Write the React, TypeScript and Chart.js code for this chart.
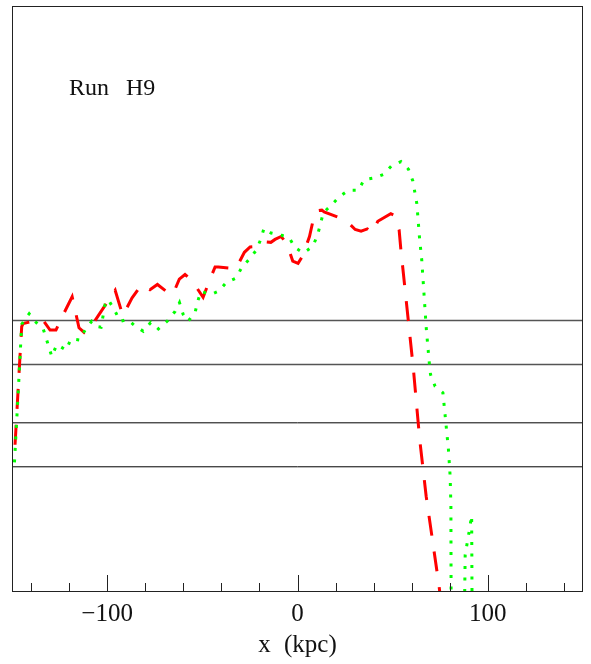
import React, { useEffect, useRef } from "react";
import { Chart, registerables } from "chart.js";

Chart.register(...registerables);

// Red dashed profile (x in kpc, y in plot units 0..10)
const redX = [-148.4, -146.1, -144.9, -144.2, -140.5, -133.7, -130.0, -126.9, -123.3, -118.4, -114.8, -112.1, -108.5, -95.8, -91.8, -86.9, -81.8, -77.5, -73.6, -66.9, -65.5, -62.1, -59.1, -55.5, -49.6, -46.3, -43.3, -41.6, -32.4, -27.9, -24.9, -20.5, -17.0, -14.0, -11.8, -8.6, -5.6, -2.5, 0.3, 2.9, 6.3, 9.2, 10.5, 12.8, 14.0, 22.0, 25.9, 30.3, 33.4, 36.7, 39.0, 42.2, 49.0, 50.9, 53.4, 54.3, 60.9, 64.2, 67.6, 74.4, 75.2];
const redY = [2.50, 3.84, 4.52, 4.57, 4.60, 4.63, 4.46, 4.46, 4.71, 5.03, 4.50, 4.42, 4.52, 5.14, 4.71, 5.01, 5.24, 5.15, 5.24, 5.07, 5.07, 5.33, 5.41, 5.31, 5.02, 5.30, 5.54, 5.54, 5.51, 5.79, 5.88, 5.89, 5.97, 5.96, 6.01, 6.06, 5.94, 5.64, 5.60, 5.74, 6.06, 6.48, 6.50, 6.51, 6.48, 6.38, 6.32, 6.18, 6.15, 6.19, 6.12, 6.32, 6.45, 6.42, 6.17, 5.84, 3.79, 2.59, 1.62, 0.08, -0.15];

// Green dotted profile
const greenX = [-148.7, -146.8, -144.9, -141.0, -137.9, -133.5, -129.1, -126.5, -124.2, -121.6, -119.0, -114.6, -111.6, -108.1, -105.1, -103.2, -101.1, -99.4, -95.8, -93.2, -89.2, -85.7, -81.0, -77.1, -73.1, -68.5, -64.3, -62.0, -60.1, -57.5, -53.8, -52.6, -50.8, -45.4, -41.2, -37.5, -32.3, -29.3, -25.4, -21.8, -19.3, -17.6, -13.9, -8.3, -4.4, -1.3, 3.1, 8.0, 10.5, 13.6, 18.0, 22.0, 26.7, 32.0, 35.0, 40.3, 45.1, 49.2, 54.4, 58.3, 60.6, 62.7, 64.1, 65.3, 66.5, 67.7, 69.3, 69.9, 72.3, 76.4, 77.6, 79.3, 80.2, 80.6, 80.7, 87.8, 88.1, 90.2, 91.5, 91.7];
const greenY = [2.20, 3.36, 4.56, 4.74, 4.61, 4.47, 4.01, 4.21, 4.17, 4.12, 4.31, 4.29, 4.46, 4.61, 4.52, 4.51, 4.90, 4.98, 4.78, 4.61, 4.64, 4.54, 4.44, 4.59, 4.48, 4.61, 4.78, 4.93, 4.73, 4.61, 4.76, 4.93, 5.12, 5.07, 5.13, 5.27, 5.35, 5.53, 5.67, 5.82, 6.01, 6.20, 6.12, 6.08, 6.04, 5.87, 5.78, 5.89, 6.08, 6.47, 6.60, 6.74, 6.85, 6.85, 7.03, 7.06, 7.12, 7.26, 7.34, 7.21, 7.01, 6.62, 6.04, 5.65, 5.06, 4.47, 3.88, 3.70, 3.50, 3.39, 2.99, 2.42, 1.96, 1.45, -0.15, -0.15, 0.62, 1.02, 1.29, -0.15];

// Horizontal reference levels
const levelValues = [4.624, 3.872, 2.875, 2.123];
const levelColors = ["#555", "#555", "#000", "#000"];

// Axis ticks
const labelTicks = [-100, 0, 100];
const minorTicks = [-140, -120, -100, -80, -60, -40, -20, 0, 20, 40, 60, 80, 100, 120, 140];

const X_MIN = -150;
const X_MAX = 150;
const Y_MIN = 0;
const Y_MAX = 10;

const SERIF = '"Liberation Serif", "Times New Roman", serif';

const framePlugin = {
  id: "frame",
  beforeDraw(chart: any) {
    (chart.ctx as any).wordSpacing = "7px";
  },
  afterDatasetsDraw(chart: any) {
    const { ctx, chartArea: a, scales } = chart;
    const x = scales.x;
    ctx.save();
    ctx.strokeStyle = "#222";
    ctx.lineWidth = 1;
    ctx.strokeRect(a.left + 0.5, a.top + 0.5, a.right - a.left - 1, a.bottom - a.top);
    ctx.beginPath();
    for (const v of minorTicks) {
      const px = Math.round(x.getPixelForValue(v)) + 0.5;
      const len = labelTicks.includes(v) ? 16 : 8;
      ctx.moveTo(px, a.bottom);
      ctx.lineTo(px, a.bottom - len);
    }
    ctx.stroke();
    ctx.fillStyle = "#111";
    ctx.font = `24px ${SERIF}`;
    (ctx as any).wordSpacing = "11px";
    ctx.textBaseline = "alphabetic";
    ctx.textAlign = "left";
    ctx.fillText("Run H9", 69, 95);
    ctx.restore();
  },
  afterDraw(chart: any) {
    (chart.ctx as any).wordSpacing = "0px";
  },
};

export default function App() {
  const ref = useRef<HTMLCanvasElement | null>(null);

  useEffect(() => {
    if (!ref.current) return;
    const red = redX.map((x, i) => ({ x, y: redY[i] }));
    const green = greenX.map((x, i) => ({ x, y: greenY[i] }));
    const levels = levelValues.map((y, i) => ({
      data: [
        { x: X_MIN, y },
        { x: X_MAX, y },
      ],
      borderColor: levelColors[i],
      borderWidth: i < 2 ? 1.4 : 1,
      pointRadius: 0,
      clip: 0,
    }));
    const chart = new Chart(ref.current, {
      type: "line",
      data: {
        datasets: [
          {
            data: green,
            borderColor: "#00ff00",
            borderWidth: 3,
            borderDash: [3, 8.5],
            borderCapStyle: "butt",
            pointRadius: 0,
            tension: 0,
            clip: 0,
          },
          {
            data: red,
            borderColor: "#ff0000",
            borderWidth: 3,
            borderDash: [20, 16],
            borderCapStyle: "butt",
            pointRadius: 0,
            tension: 0,
            clip: 0,
          },
          ...levels,
        ] as any,
      },
      options: {
        animation: false,
        responsive: false,
        devicePixelRatio: 1,
        layout: { padding: { left: 12, right: 8, top: 6, bottom: 0 } },
        plugins: { legend: { display: false }, tooltip: { enabled: false } },
        elements: { point: { radius: 0 }, line: { tension: 0 } },
        scales: {
          x: {
            type: "linear",
            position: "bottom",
            min: X_MIN,
            max: X_MAX,
            grid: { display: false, drawTicks: false },
            border: { display: false },
            afterBuildTicks: (axis: any) => {
              axis.ticks = labelTicks.map((v) => ({ value: v }));
            },
            afterFit: (axis: any) => {
              axis.height = 73;
            },
            ticks: {
              autoSkip: false,
              maxRotation: 0,
              padding: 8,
              color: "#111",
              font: { family: SERIF, size: 25, lineHeight: 1.2 },
              callback: (v: any) => (v < 0 ? "\u2212" + Math.abs(v) : String(v)),
            },
            title: {
              display: true,
              text: "x (kpc)",
              color: "#111",
              font: { family: SERIF, size: 25, lineHeight: 1.2 },
              padding: { top: 0, bottom: 4 },
            },
          } as any,
          y: { type: "linear", display: false, min: Y_MIN, max: Y_MAX },
        },
      },
      plugins: [framePlugin],
    });
    return () => chart.destroy();
  }, []);

  return (
    <div style={{ position: "fixed", left: 0, top: 0, width: 591, height: 664, background: "#fff" }}>
      <canvas ref={ref} width={591} height={664} style={{ display: "block" }} />
    </div>
  );
}
